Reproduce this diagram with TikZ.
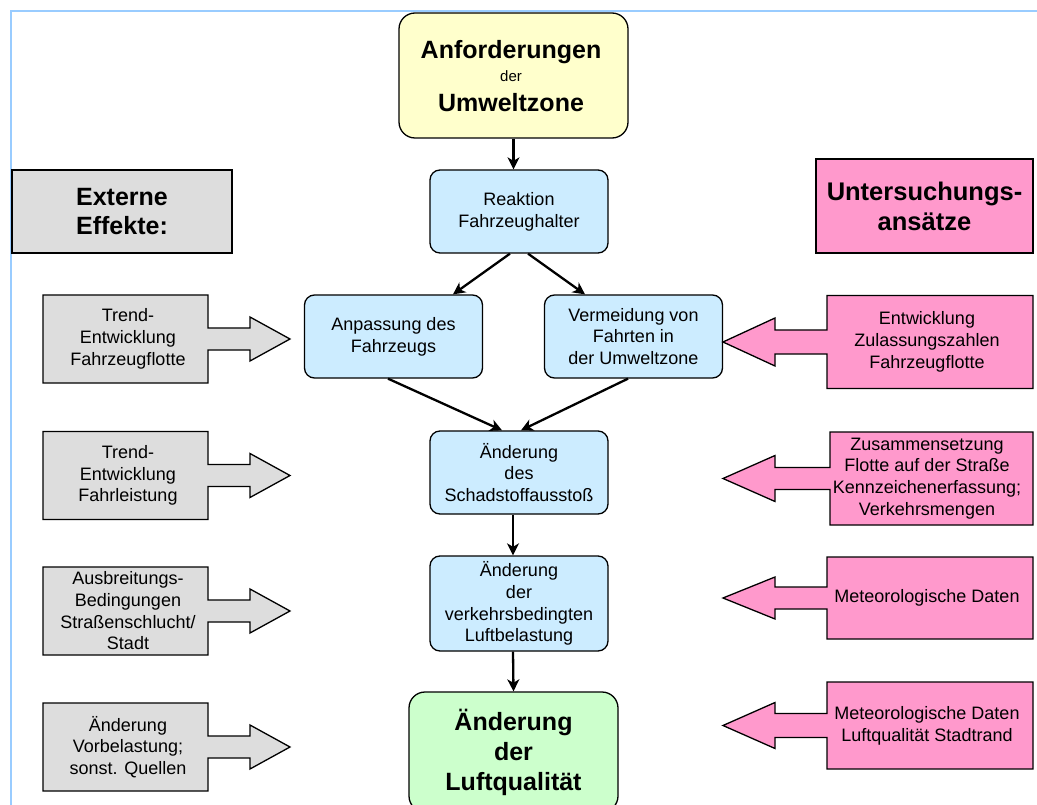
\documentclass[tikz,border=0pt]{standalone}
\usepackage{fontspec}
\setmainfont{Liberation Sans}
\usetikzlibrary{arrows.meta}
\definecolor{yelF}{HTML}{FFFFCC}
\definecolor{bluF}{HTML}{CCECFF}
\definecolor{grnF}{HTML}{CCFFCC}
\definecolor{gryF}{HTML}{DDDDDD}
\definecolor{pnkF}{HTML}{FF99CC}
\definecolor{frameC}{HTML}{99CCFF}
\newcommand\leftcall[3]{%
  \draw[lcall] (43,#2-44) -- (208,#2-44) -- (208,#2-11) -- (250,#2-11) -- (250,#2-22) -- (290,#2) -- (250,#2+22) -- (250,#2+11) -- (208,#2+11) -- (208,#2+44) -- (43,#2+44) -- cycle;
  \node[ctext] (#1) at (128,#2) {#3};}
\newcommand\rightcall[7]{%
  \draw[rcall] (#6,#2-#3) -- (1033,#2-#3) -- (1033,#2+#3) -- (#6,#2+#3) -- (#6,#2+#4) -- (775,#2+#4) -- (775,#2+#5) -- (723,#2) -- (775,#2-#5) -- (775,#2-#4) -- (#6,#2-#4) -- cycle;
  \node[ctext] (#1) at (927,#2) {#7};}
\begin{document}
\begin{tikzpicture}[x=1pt,y=-1pt,
  boxline/.style={draw=black,line width=1.3pt},
  bbox/.style={boxline,rounded corners=10pt,fill=bluF,align=center,inner sep=0pt,
    minimum width=178pt,minimum height=83pt,font=\fontsize{18}{21.7}\selectfont},
  ctext/.style={align=center,inner sep=0pt,font=\fontsize{18}{21.7}\selectfont},
  bigtext/.style={inner sep=0pt,font=\fontsize{25}{30}\selectfont\bfseries},
  lcall/.style={boxline,fill=gryF},
  rcall/.style={boxline,fill=pnkF},
  conn/.style={line width=2.3pt,-{Stealth[length=12pt,width=12pt,inset=3.5pt]}}]
\useasboundingbox (0,0) rectangle (1037,805);
\clip (0,0) rectangle (1037,805);
% frame
\draw[frameC,line width=2.2pt] (11,806) -- (11,11) -- (1038,11);
% top box
\node[boxline,rounded corners=16pt,fill=yelF,minimum width=229pt,minimum height=125pt,inner sep=0pt] (A) at (513.5,75.5) {};
\node[bigtext,anchor=base] (A1) at (511,59) {Anforderungen};
\node[inner sep=0pt,anchor=base,font=\fontsize{15}{18}\selectfont] (A2) at (511,82) {der};
\node[bigtext,anchor=base] (A3) at (511,112) {Umweltzone};
% flow boxes
\node[bbox] (R) at (519,211.5) {Reaktion\\Fahrzeughalter};
\node[bbox] (P) at (393.5,336.5) {Anpassung des\\Fahrzeugs};
\node[bbox] (V) at (633.5,336.5) {Vermeidung von\\Fahrten in\\der Umweltzone};
\node[bbox] (S) at (519,472.5) {Änderung\\des\\Schadstoffausstoß};
\node[bbox,minimum height=95pt] (L) at (519,603.5) {Änderung\\der\\verkehrsbedingten\\Luftbelastung};
\node[boxline,rounded corners=16pt,fill=grnF,minimum width=209pt,minimum height=120pt,inner sep=0pt,
  align=center,font=\fontsize{25}{30}\selectfont\bfseries] (Q) at (513.5,752) {Änderung\\der\\Luftqualität};
% headers
\node[boxline,fill=gryF,minimum width=220pt,minimum height=83pt,inner sep=0pt,align=center,
  font=\fontsize{25}{29}\selectfont\bfseries] (E) at (122,211.5) {Externe\\Effekte:};
\node[boxline,fill=pnkF,minimum width=217pt,minimum height=94pt,inner sep=0pt,align=center,
  font=\fontsize{25.5}{30}\selectfont\bfseries] (U) at (924.5,206) {Untersuchungs-\\ansätze};
% connectors
\draw[conn] (A.south) -- (A.south |- R.north);
\draw[conn] ([xshift=-9pt]R.south) -- ([xshift=59.5pt]P.north);
\draw[conn] ([xshift=9pt]R.south) -- ([xshift=-48.5pt]V.north);
\draw[conn] ([xshift=-5.5pt]P.south) -- ([xshift=-17pt]S.north);
\draw[conn] ([xshift=-5.5pt]V.south) -- ([xshift=2pt]S.north);
\draw[conn] ([xshift=-6pt]S.south) -- ([xshift=-6pt]L.north);
\draw[conn] ([xshift=-6pt]L.south) -- (Q.north);
% left callouts
\leftcall{e1}{339}{Trend-\\Entwicklung\\Fahrzeugflotte}
\leftcall{e2}{475.5}{Trend-\\Entwicklung\\Fahrleistung}
\leftcall{e3}{611}{Ausbreitungs-\\Bedingungen\\Straßenschlucht/\\Stadt}
\leftcall{e4}{747}{Änderung\\Vorbelastung;\\sonst. Quellen}
% right callouts
\rightcall{u1}{342}{46.5}{12}{24}{827}{Entwicklung\\Zulassungszahlen\\Fahrzeugflotte}
\rightcall{u2}{478.5}{46.5}{11}{23}{830}{Zusammensetzung\\Flotte auf der Straße\\Kennzeichenerfassung;\\Verkehrsmengen}
\rightcall{u3}{598}{41}{11}{21}{827}{Meteorologische Daten}
\rightcall{u4}{725.5}{43.5}{12}{23}{827}{Meteorologische Daten\\Luftqualität Stadtrand}
\end{tikzpicture}
\end{document}
